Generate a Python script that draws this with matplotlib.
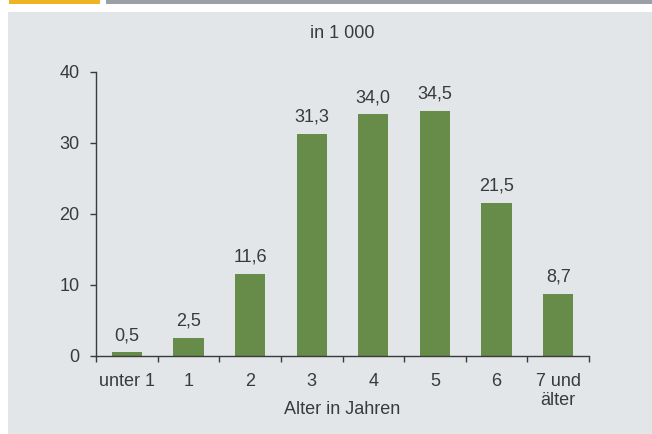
import matplotlib.pyplot as plt
from matplotlib.patches import Rectangle

categories = ["unter 1", "1", "2", "3", "4", "5", "6", "7 und\nälter"]
values = [0.5, 2.5, 11.6, 31.3, 34.0, 34.5, 21.5, 8.7]
labels = ["0,5", "2,5", "11,6", "31,3", "34,0", "34,5", "21,5", "8,7"]

plt.rcParams["font.family"] = ["Liberation Sans", "DejaVu Sans"]
text_col = "#3a3a3a"
fs = 13

W, H = 652, 434
fig = plt.figure(figsize=(W / 100, H / 100), dpi=100)
fig.patch.set_facecolor("white")

# panel background and top strip
fig.add_artist(Rectangle((8 / W, 0), 1 - 8 / W, (H - 12) / H, transform=fig.transFigure,
                         facecolor="#e3e6e9", edgecolor="none", zorder=0))
fig.add_artist(Rectangle((9 / W, (H - 4) / H), 91 / W, 4 / H, transform=fig.transFigure,
                         facecolor="#f0b323", edgecolor="none", zorder=0))
fig.add_artist(Rectangle((106 / W, (H - 4) / H), 1 - 106 / W, 4 / H, transform=fig.transFigure,
                         facecolor="#9aa0a6", edgecolor="none", zorder=0))

ax = fig.add_axes([96 / W, (H - 356) / H, (589 - 96) / W, (356 - 71.7) / H])
ax.set_facecolor("none")

x = range(len(categories))
bars = ax.bar(x, values, width=0.49, color="#678c4a", zorder=2)
for b, lab in zip(bars, labels):
    ax.annotate(lab, (b.get_x() + b.get_width() / 2, b.get_height()),
                xytext=(0, 6), textcoords="offset points", ha="center", va="bottom",
                fontsize=fs, color=text_col)

ax.set_xlim(-0.5, len(categories) - 0.5)
ax.set_ylim(0, 40)
ax.set_yticks([0, 10, 20, 30, 40])
ax.set_xticks(list(x))
ax.set_xticklabels(categories, fontsize=fs, color=text_col, linespacing=1.15)
ax.set_xticks([i - 0.5 for i in range(len(categories) + 1)], minor=True)
ax.tick_params(axis="x", which="major", length=0, pad=12)
ax.tick_params(axis="x", which="minor", length=4, width=1, color=text_col, direction="out")
ax.tick_params(axis="y", length=4, width=1, color=text_col, labelsize=fs,
               labelcolor=text_col, pad=8)

for s in ["top", "right"]:
    ax.spines[s].set_visible(False)
for s in ["left", "bottom"]:
    ax.spines[s].set_color(text_col)
    ax.spines[s].set_linewidth(1)

ax.set_xlabel("Alter in Jahren", fontsize=fs, color=text_col, va="center")
ax.xaxis.set_label_coords(0.5, -(410 - 356) / (356 - 71.7))
fig.text(342 / W, 1 - 33 / H, "in 1 000", ha="center", va="center", fontsize=fs, color=text_col)

fig.savefig("out.png", dpi=100)
plt.close(fig)
